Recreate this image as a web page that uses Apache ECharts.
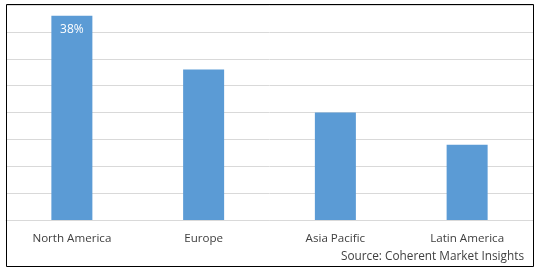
<!DOCTYPE html>
<html><head><meta charset="utf-8">
<script src="https://cdn.jsdelivr.net/npm/echarts@6/dist/echarts.min.js"></script>
<style>html,body{margin:0;padding:0;background:#fff}#c{width:538px;height:272px}</style>
</head><body><div id="c"></div>
<script>
var categories = ['North America', 'Europe', 'Asia Pacific', 'Latin America'];
var shares = [38, 28, 20, 14];
var labelText = ['38%', '', '', ''];
var sourceText = 'Source: Coherent Market Insights';

var chart = echarts.init(document.getElementById('c'), null, {renderer: 'canvas'});
var FONT = '"Open Sans", "Noto Sans", sans-serif';
chart.setOption({
  animation: false,
  grid: {left: 6, right: 5, top: 5, bottom: 52, containLabel: false},
  xAxis: {
    type: 'category', data: categories,
    axisLine: {lineStyle: {color: '#d9d9d9'}},
    axisTick: {show: false},
    axisLabel: {color: '#404040', fontSize: 11.6, fontFamily: FONT, margin: 13}
  },
  yAxis: {
    type: 'value', min: 0, max: 40, interval: 5,
    axisLabel: {show: false}, axisLine: {show: false}, axisTick: {show: false},
    splitLine: {lineStyle: {color: '#d9d9d9', width: 1}}
  },
  series: [{
    type: 'bar', data: shares.map(function (v, i) {
      return {value: v, label: {show: !!labelText[i], formatter: labelText[i]}};
    }),
    barWidth: 41,
    itemStyle: {color: '#5b9bd5'},
    label: {position: 'insideTop', distance: 8, color: '#ffffff', fontSize: 12, fontFamily: FONT}
  }],
  graphic: [
    {type: 'rect', shape: {x: 6.5, y: 4.5, width: 527, height: 262}, style: {fill: 'none', stroke: '#000', lineWidth: 1}, z: 100},
    {type: 'text', right: 14, top: 251, style: {text: sourceText, fill: '#404040', font: '11.8px ' + FONT}}
  ]
});
</script></body></html>
